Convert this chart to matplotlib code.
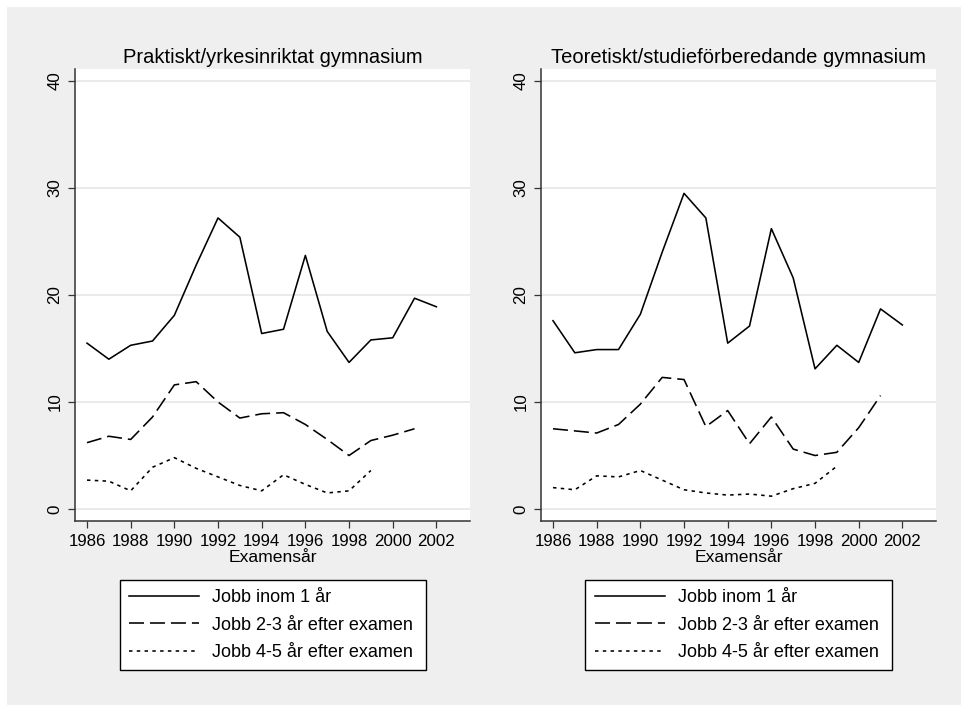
import matplotlib
matplotlib.use('Agg')
import matplotlib.pyplot as plt
from matplotlib.patches import Rectangle

plt.rcParams['font.family'] = ['Liberation Sans', 'DejaVu Sans']
plt.rcParams['lines.scale_dashes'] = False

# ---- data ----
years_1 = list(range(1986, 2003))
years_23 = list(range(1986, 2002))
years_45 = list(range(1986, 2000))

prakt_1 = [15.5, 14.0, 15.3, 15.7, 18.1, 22.8, 27.2, 25.4, 16.4, 16.8, 23.7, 16.6, 13.7, 15.8, 16.0, 19.7, 18.9]
prakt_23 = [6.2, 6.8, 6.5, 8.6, 11.6, 11.9, 10.0, 8.5, 8.9, 9.0, 7.9, 6.5, 5.0, 6.4, 6.9, 7.5]
prakt_45 = [2.7, 2.6, 1.7, 3.9, 4.8, 3.8, 3.0, 2.2, 1.7, 3.2, 2.3, 1.5, 1.7, 3.6]

teor_1 = [17.6, 14.6, 14.9, 14.9, 18.2, 24.0, 29.5, 27.2, 15.5, 17.1, 26.2, 21.6, 13.1, 15.3, 13.7, 18.7, 17.2]
teor_23 = [7.5, 7.3, 7.1, 7.9, 9.8, 12.3, 12.1, 7.7, 9.2, 6.1, 8.6, 5.6, 5.0, 5.3, 7.6, 10.6]
teor_45 = [2.0, 1.8, 3.1, 3.0, 3.6, 2.7, 1.8, 1.5, 1.3, 1.4, 1.2, 1.9, 2.4, 4.0]

titles = ["Praktiskt/yrkesinriktat gymnasium", "Teoretiskt/studieförberedande gymnasium"]
series_labels = ["Jobb inom 1 år", "Jobb 2-3 år efter examen", "Jobb 4-5 år efter examen"]
xticks = list(range(1986, 2003, 2))
yticks = [0, 10, 20, 30, 40]
xlabel = "Examensår"

W, H = 962, 705
fig = plt.figure(figsize=(W / 100, H / 100), dpi=100)
fig.patch.set_facecolor('white')
fig.add_artist(Rectangle((7 / W, 0), 1 - 7 / W, 1 - 7 / H, transform=fig.transFigure,
                         facecolor='#efefef', edgecolor='none', zorder=-10))

FS_TICK = 12.2
FS_TITLE = 14.5
FS_LEG = 13
FS_XLAB = 12.6
LW = 1.15
styles = ['-', (0, (10.8, 4.3)), (0, (2.5, 3.1))]


def panel(x0, title, s1, s23, s45):
    ax = fig.add_axes([x0 / W, 1 - 521 / H, 395 / W, 452 / H])
    ax.set_facecolor('white')
    ax.plot(years_1, s1, color='black', lw=LW, ls=styles[0], label=series_labels[0])
    ax.plot(years_23, s23, color='black', lw=LW, ls=styles[1], label=series_labels[1])
    ax.plot(years_45, s45, color='black', lw=LW, ls=styles[2], label=series_labels[2])
    ax.set_xlim(1985.45, 2003.54)
    ax.set_ylim(-1.12, 41.12)
    ax.set_xticks(xticks)
    ax.set_yticks(yticks)
    ax.yaxis.grid(True, color='#e6e6e6', lw=1.2)
    ax.set_axisbelow(True)
    for s in ['top', 'right']:
        ax.spines[s].set_visible(False)
    for s in ['left', 'bottom']:
        ax.spines[s].set_linewidth(1.1)
        ax.spines[s].set_color('#333333')
    ax.tick_params(direction='out', length=5, width=0.9, labelsize=FS_TICK, pad=4, color='#333333')
    ax.tick_params(axis='y', labelrotation=90)
    for lbl in ax.get_yticklabels():
        lbl.set_va('center')
    ax.set_xlabel(xlabel, fontsize=FS_XLAB, labelpad=1.2)
    ax.set_title(title, fontsize=FS_TITLE, pad=4.3)
    cx = (x0 + 395 / 2)
    leg = ax.legend(loc='upper left',
                    bbox_to_anchor=((cx - 153) / W, 1 - 580 / H - 0.01, 306 / W, 0.01),
                    bbox_transform=fig.transFigure, mode='expand', fontsize=FS_LEG,
                    frameon=True, fancybox=False, edgecolor='black', framealpha=1,
                    handlelength=3.88, handletextpad=0.74, labelspacing=0.58, borderpad=0.5,
                    borderaxespad=0)
    leg.get_frame().set_linewidth(1.0)
    return ax


panel(75, titles[0], prakt_1, prakt_23, prakt_45)
panel(541, titles[1], teor_1, teor_23, teor_45)

fig.savefig('out.png', dpi=100)
